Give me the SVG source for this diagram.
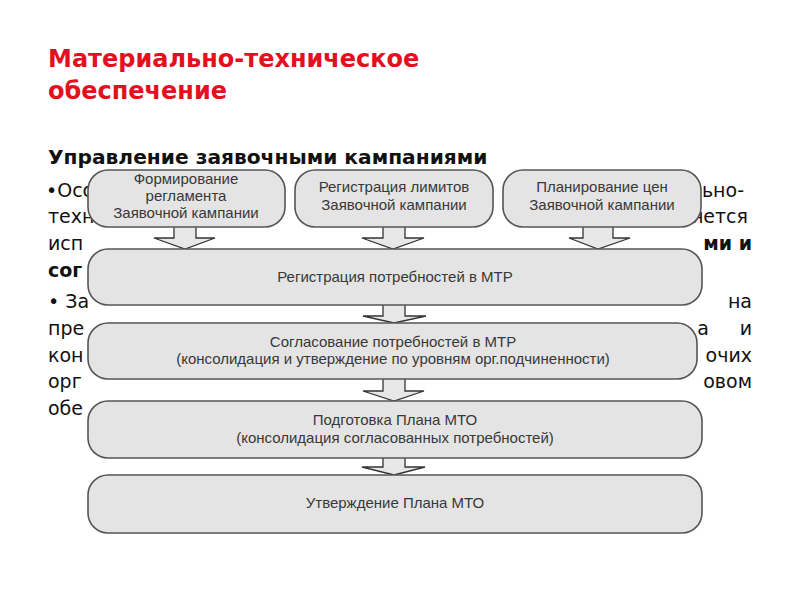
<svg xmlns="http://www.w3.org/2000/svg" width="800" height="600" viewBox="0 0 800 600">
<style>
.title{font-family:"DejaVu Sans",Verdana,sans-serif;font-weight:bold;font-size:24px;fill:#e3101e}
.sub{font-family:"DejaVu Sans",Verdana,sans-serif;font-weight:bold;font-size:20.2px;fill:#111}
.body{font-family:"DejaVu Sans",Verdana,sans-serif;font-size:19px;fill:#111}
.bold{font-weight:bold}
.box{fill:#e4e4e4;stroke:#555;stroke-width:1.6}
.lbl{font-family:"Liberation Sans",Arial,sans-serif;font-size:15px;fill:#383838;text-anchor:middle}
.arr{fill:#e8e8e8;stroke:#333;stroke-width:1.3;stroke-linejoin:miter}
</style>
<rect width="800" height="600" fill="#fff"/>
<text class="title" x="48" y="67">Материально-техническое</text>
<text class="title" x="48" y="99">обеспечение</text>
<text class="sub" x="48" y="164">Управление заявочными кампаниями</text>
<g id="bg-text">
<text class="body" x="46" y="197">•Осо</text>
<text class="body" x="48" y="223">техн</text>
<text class="body" x="48" y="250">исп</text>
<text class="body bold" x="48" y="277">сог</text>
<text class="body" x="48" y="308">•  За</text>
<text class="body" x="48" y="335">пре</text>
<text class="body" x="48" y="362">кон</text>
<text class="body" x="48" y="388">орг</text>
<text class="body" x="48" y="415">обе</text>
<text class="body" x="744" y="197" text-anchor="end">ально-</text>
<text class="body" x="748" y="223" text-anchor="end">ляется</text>
<text class="body bold" x="752" y="250" text-anchor="end">ми и</text>
<text class="body" x="752" y="308" text-anchor="end">на</text>
<text class="body" x="709" y="335" text-anchor="end">а</text>
<text class="body" x="752" y="335" text-anchor="end">и</text>
<text class="body" x="752" y="362" text-anchor="end">очих</text>
<text class="body" x="752" y="388" text-anchor="end">овом</text>
</g>
<g id="connectors">
<path class="arr" d="M174,227 V238 H154 L185,249 L215,238 H196 V227"/>
<path class="arr" d="M383,227 V238 H362 L393,249 L424,238 H405 V227"/>
<path class="arr" d="M583,227 V238 H569 L598,249 L630,238 H613 V227"/>
<path class="arr" d="M383,305 V316 H363 L394,323 L426,316 H405 V305"/>
<path class="arr" d="M383,379 V391 H363 L394,401 L424,391 H405 V379"/>
<path class="arr" d="M383,458 V467 H362 L394,475 L425,467 H405 V458"/>
</g>
<g id="n1"><rect class="box" x="88" y="170" width="197" height="57" rx="20"/>
<text class="lbl" x="186" y="184">Формирование</text>
<text class="lbl" x="186" y="201">регламента</text>
<text class="lbl" x="186" y="218">Заявочной кампании</text></g>
<g id="n2"><rect class="box" x="295" y="170" width="198" height="57" rx="20"/>
<text class="lbl" x="394" y="192">Регистрация лимитов</text>
<text class="lbl" x="394" y="210">Заявочной кампании</text></g>
<g id="n3"><rect class="box" x="503" y="170" width="198" height="57" rx="20"/>
<text class="lbl" x="602" y="192">Планирование цен</text>
<text class="lbl" x="602" y="210">Заявочной кампании</text></g>
<g id="n4"><rect class="box" x="88" y="249" width="614" height="56" rx="20"/>
<text class="lbl" x="395" y="282">Регистрация потребностей в МТР</text></g>
<g id="n5"><rect class="box" x="88" y="323" width="609" height="56" rx="20"/>
<text class="lbl" x="393" y="347">Согласование потребностей в МТР</text>
<text class="lbl" x="393" y="364">(консолидация и утверждение по уровням орг.подчиненности)</text></g>
<g id="n6"><rect class="box" x="88" y="401" width="614" height="57" rx="20"/>
<text class="lbl" x="395" y="425">Подготовка Плана МТО</text>
<text class="lbl" x="395" y="443">(консолидация согласованных потребностей)</text></g>
<g id="n7"><rect class="box" x="88" y="475" width="614" height="58" rx="20"/>
<text class="lbl" x="395" y="508">Утверждение Плана МТО</text></g>
</svg>
